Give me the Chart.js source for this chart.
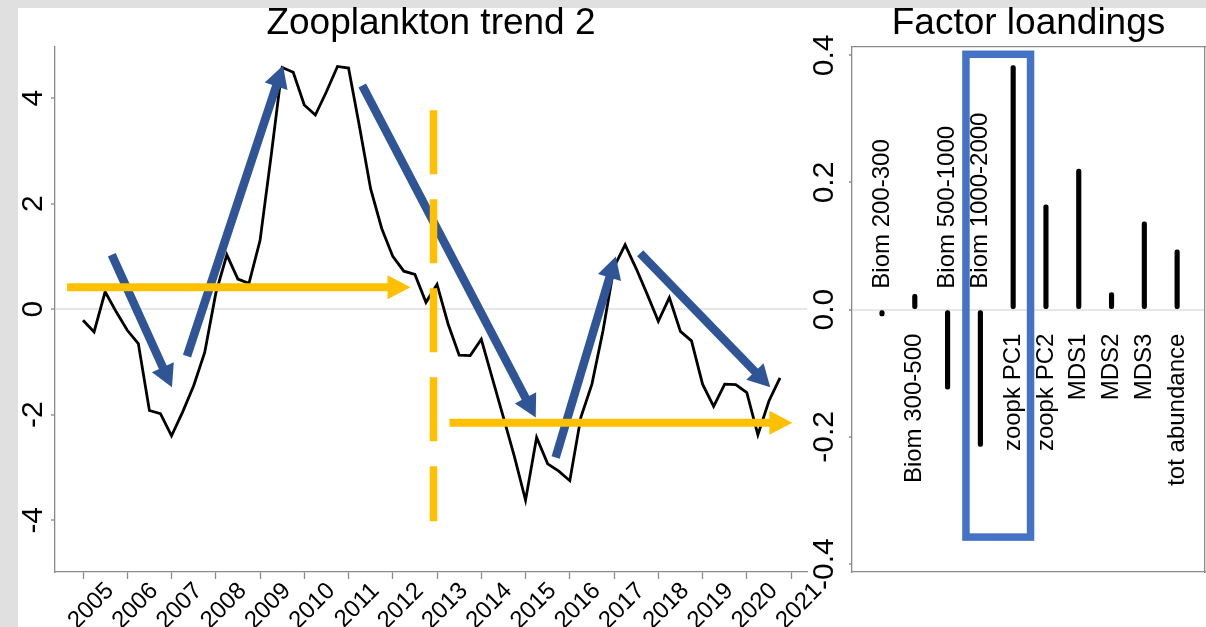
<!DOCTYPE html>
<html><head><meta charset="utf-8">
<script src="https://cdn.jsdelivr.net/npm/chart.js@4.4.0/dist/chart.umd.min.js"></script>
<style>
html,body{margin:0;padding:0;}
body{width:1206px;height:627px;overflow:hidden;background:#e0e0e0;position:relative;font-family:'Liberation Sans',Arial,sans-serif;}
#panel{position:absolute;left:18px;top:8px;right:0;bottom:0;background:#fff;}
#left{position:absolute;left:0;top:0;width:830px;height:627px;}
#right{position:absolute;left:800px;top:0;width:406px;height:627px;}
</style></head>
<body>
<div id="panel"></div>
<div id="left"><canvas id="c1"></canvas></div>
<div id="right"><canvas id="c2"></canvas></div>
<script>
// ---------- data: left panel (quarterly trend) ----------
const quarterTimes = [
 2005.00,2005.25,2005.50,2005.75,2006.00,2006.25,2006.50,2006.75,
 2007.00,2007.25,2007.50,2007.75,2008.00,2008.25,2008.50,2008.75,
 2009.00,2009.25,2009.50,2009.75,2010.00,2010.25,2010.50,2010.75,
 2011.00,2011.25,2011.50,2011.75,2012.00,2012.25,2012.50,2012.75,
 2013.00,2013.25,2013.50,2013.75,2014.00,2014.25,2014.50,2014.75,
 2015.00,2015.25,2015.50,2015.75,2016.00,2016.25,2016.50,2016.75,
 2017.00,2017.25,2017.50,2017.75,2018.00,2018.25,2018.50,2018.75,
 2019.00,2019.25,2019.50,2019.75,2020.00,2020.25,2020.50,2020.75];
const trendValues = [
 -0.21,-0.43,0.33,-0.05,-0.40,-0.65,-1.92,-1.98,-2.40,-1.95,
 -1.45,-0.82,0.30,1.03,0.57,0.49,1.30,2.90,4.58,4.49,
 3.87,3.68,4.12,4.60,4.57,3.45,2.28,1.53,1.00,0.72,
 0.66,0.13,0.47,-0.28,-0.87,-0.88,-0.57,-1.31,-2.05,-2.80,
 -3.62,-2.43,-2.93,-3.07,-3.25,-2.05,-1.42,-0.41,0.80,1.22,
 0.77,0.28,-0.23,0.22,-0.42,-0.60,-1.42,-1.84,-1.42,-1.43,
 -1.58,-2.38,-1.74,-1.30];
const yearTicks = [2005,2006,2007,2008,2009,2010,2011,2012,2013,2014,2015,2016,2017,2018,2019,2020,2021];
const trendYTicks = [-4,-2,0,2,4];

// annotation arrows in data units: [x1, y1, xTip, yTip]
const blueArrows = [
 [2005.65, 1.03, 2007.01, -1.48],
 [2007.35, -0.89, 2009.52, 4.62],
 [2011.31, 4.24, 2015.23, -2.05],
 [2015.68, -2.81, 2017.04, 1.00],
 [2017.59, 1.06, 2020.53, -1.48]];
const yellowArrows = [
 [2004.64, 0.415, 2012.40, 0.415],
 [2013.28, -2.15, 2021.03, -2.15]];
const yellowDashed = [2012.92, 3.77, 2012.92, -4.02];

// ---------- data: right panel (factor loadings) ----------
const loadingLabels = ["Biom 200-300","Biom 300-500","Biom 500-1000","Biom 1000-2000","zoopk PC1","zoopk PC2","MDS1","MDS2","MDS3","tot abundance"];
const loadingPos = [1,2,3,4,5,6,7,8,9,10];
const loadings = [-0.010,0.024,-0.125,-0.215,0.384,0.165,0.221,0.027,0.138,0.094];
const loadingTicks = [-0.4,-0.2,0,0.2,0.4];
const highlightBox = [3.56, 0.4016, 5.53, -0.3576];

const FAM = "'Liberation Sans', Arial, sans-serif";
const AXIS = '#8a8a8a';
const BLUE = '#2f5597', YELLOW = '#ffc000';

function arrow(ctx,x1,y1,x2,y2,w,hl,hw,color){
  const dx=x2-x1, dy=y2-y1, L=Math.hypot(dx,dy), ux=dx/L, uy=dy/L;
  const bx=x2-ux*hl, by=y2-uy*hl;
  ctx.strokeStyle=color; ctx.lineWidth=w; ctx.lineCap='butt';
  ctx.beginPath(); ctx.moveTo(x1,y1); ctx.lineTo(bx+ux*1.5,by+uy*1.5); ctx.stroke();
  ctx.fillStyle=color; ctx.beginPath();
  ctx.moveTo(x2,y2); ctx.lineTo(bx-uy*hw/2,by+ux*hw/2); ctx.lineTo(bx+uy*hw/2,by-ux*hw/2);
  ctx.closePath(); ctx.fill();
}

const annotPlugin = {
  id:'annot',
  afterDatasetsDraw(chart){
    const {ctx, scales:{x,y}} = chart;
    ctx.save();
    blueArrows.forEach(a=>arrow(ctx,x.getPixelForValue(a[0]),y.getPixelForValue(a[1]),x.getPixelForValue(a[2]),y.getPixelForValue(a[3]),8.5,22,24,BLUE));
    yellowArrows.forEach(a=>arrow(ctx,x.getPixelForValue(a[0]),y.getPixelForValue(a[1]),x.getPixelForValue(a[2]),y.getPixelForValue(a[3]),8,23,24,YELLOW));
    ctx.strokeStyle=YELLOW; ctx.lineWidth=7.5; ctx.setLineDash([64,25]); ctx.lineCap='butt';
    ctx.beginPath();
    ctx.moveTo(x.getPixelForValue(yellowDashed[0]),y.getPixelForValue(yellowDashed[1]));
    ctx.lineTo(x.getPixelForValue(yellowDashed[2]),y.getPixelForValue(yellowDashed[3]));
    ctx.stroke();
    ctx.restore();
  }
};

new Chart(document.getElementById('c1'), {
  type:'line',
  data:{ datasets:[{ data: quarterTimes.map((t,i)=>({x:t,y:trendValues[i]})), borderColor:'#000', borderWidth:2.8, pointRadius:0, tension:0, fill:false }] },
  options:{
    responsive:true, maintainAspectRatio:false, animation:false,
    layout:{padding:{top:2,right:23,left:0,bottom:0}},
    plugins:{ legend:{display:false}, tooltip:{enabled:false},
      title:{display:true, text:'Zooplankton trend 2', fullSize:false, color:'#000', font:{family:FAM,size:37,weight:'normal'}, padding:{top:0,bottom:0}} },
    scales:{
      x:{ type:'linear', min:2004.367, max:2021.36,
        afterBuildTicks:s=>{ s.ticks = yearTicks.map(v=>({value:v})); },
        ticks:{ autoSkip:false, minRotation:45, maxRotation:45, labelOffset:27, padding:-2, color:'#000', font:{family:FAM,size:24}, callback:v=>String(v) },
        grid:{ drawOnChartArea:false, tickLength:7, tickColor:AXIS, tickWidth:1.3 },
        border:{ color:AXIS, width:1.3 },
        afterFit:s=>{ s.height=55; } },
      y:{ min:-4.98, max:4.98,
        afterBuildTicks:s=>{ s.ticks = trendYTicks.map(v=>({value:v})); },
        ticks:{ minRotation:90, maxRotation:90, crossAlign:'center', padding:4, color:'#000', font:{family:FAM,size:30}, callback:v=>String(v) },
        grid:{ color:c=>(c.tick && c.tick.value===0)?'#e6e6e6':'rgba(0,0,0,0)', lineWidth:2, tickLength:4, tickColor:AXIS, tickWidth:1.3 },
        border:{ color:AXIS, width:1.3 },
        afterFit:s=>{ s.width=55; } }
    }
  },
  plugins:[annotPlugin]
});

const loadPlugin = {
  id:'loadlabels',
  afterDatasetsDraw(chart){
    const {ctx, scales:{x,y}} = chart;
    const y0 = y.getPixelForValue(0);
    ctx.save();
    ctx.font = '24px ' + FAM; ctx.fillStyle='#000'; ctx.textBaseline='middle';
    loadingLabels.forEach((lab,i)=>{
      const px = x.getPixelForValue(loadingPos[i]);
      const neg = loadings[i] < 0;
      ctx.save();
      ctx.translate(px, neg ? y0-21 : y0+24);
      ctx.rotate(-Math.PI/2);
      ctx.textAlign = neg ? 'left' : 'right';
      ctx.fillText(lab,0,0);
      ctx.restore();
    });
    const bx1=x.getPixelForValue(highlightBox[0]), by1=y.getPixelForValue(highlightBox[1]);
    const bx2=x.getPixelForValue(highlightBox[2]), by2=y.getPixelForValue(highlightBox[3]);
    ctx.strokeStyle='#4472c4'; ctx.lineWidth=7.5; ctx.lineJoin='miter';
    ctx.strokeRect(bx1,by1,bx2-bx1,by2-by1);
    ctx.restore();
  }
};

new Chart(document.getElementById('c2'), {
  type:'bar',
  data:{ datasets:[{ data: loadingPos.map((p,i)=>({x:p,y:loadings[i]})), backgroundColor:'#000', barThickness:4.5, borderRadius:2.2, borderSkipped:false }] },
  options:{
    responsive:true, maintainAspectRatio:false, animation:false,
    layout:{padding:{top:2,right:1,left:0,bottom:0}},
    plugins:{ legend:{display:false}, tooltip:{enabled:false},
      title:{display:true, text:'Factor loandings', fullSize:false, color:'#000', font:{family:FAM,size:37,weight:'normal'}, padding:{top:0,bottom:0}} },
    scales:{
      x:{ type:'linear', min:0.085, max:10.85, offset:false,
        ticks:{display:false}, grid:{offset:false, drawOnChartArea:false, drawTicks:false},
        border:{ color:AXIS, width:1.3 },
        afterFit:s=>{ s.height=55; } },
      x2:{ type:'linear', position:'top', min:0, max:1, offset:false,
        ticks:{display:false}, grid:{drawOnChartArea:false, drawTicks:false},
        border:{ color:AXIS, width:1.3 },
        afterFit:s=>{ s.height=0; } },
      y:{ min:-0.4125, max:0.414,
        afterBuildTicks:s=>{ s.ticks = loadingTicks.map(v=>({value:v})); },
        ticks:{ minRotation:90, maxRotation:90, crossAlign:'center', padding:-2, color:'#000', font:{family:FAM,size:30}, callback:v=>Number(v).toFixed(1) },
        grid:{ color:c=>(c.tick && Math.abs(c.tick.value)<1e-9)?'#e6e6e6':'rgba(0,0,0,0)', lineWidth:2, tickLength:3, tickColor:AXIS, tickWidth:1.3 },
        border:{ color:AXIS, width:1.3 },
        afterFit:s=>{ s.width=52; } },
      y2:{ position:'right', min:0, max:1,
        ticks:{display:false}, grid:{drawOnChartArea:false, drawTicks:false},
        border:{ color:AXIS, width:1.3 },
        afterFit:s=>{ s.width=0; } }
    }
  },
  plugins:[loadPlugin]
});
</script>
</body></html>
